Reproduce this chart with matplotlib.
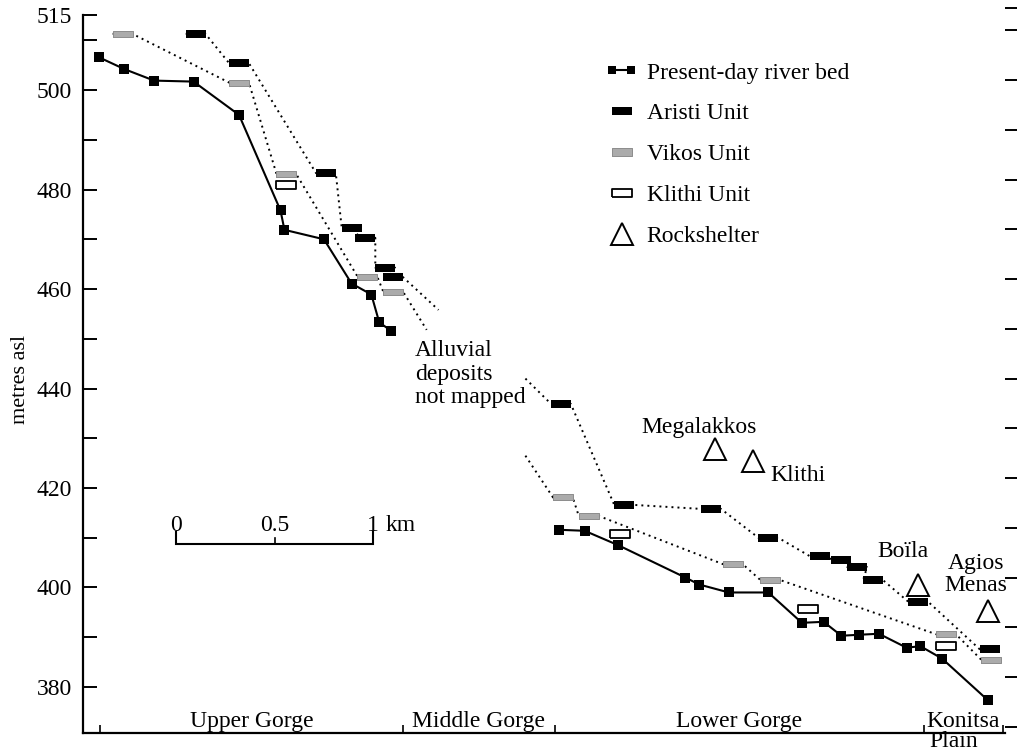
import numpy as np
import matplotlib.pyplot as plt
from matplotlib.lines import Line2D
from matplotlib.legend_handler import HandlerLine2D

plt.rcParams['font.family'] = ['Liberation Serif', 'DejaVu Serif']
plt.rcParams['font.size'] = 17

# distance downstream (km) and elevation (metres asl)
# present-day river bed, split where the middle gorge was not surveyed
bed_upper_km = [0.08, 0.21, 0.36, 0.56, 0.79, 1.00, 1.02, 1.22, 1.36, 1.46, 1.50, 1.56]
bed_upper_m = [506.6, 504.2, 501.9, 501.7, 495.0, 475.8, 471.9, 470.0, 461.1, 458.9, 453.3, 451.6]
bed_lower_km = [2.41, 2.54, 2.71, 3.05, 3.12, 3.27, 3.47, 3.64, 3.75, 3.84, 3.93, 4.03,
                4.17, 4.24, 4.35, 4.58]
bed_lower_m = [411.6, 411.4, 408.5, 402.0, 400.6, 399.0, 399.0, 392.9, 393.1, 390.3, 390.5,
               390.7, 387.9, 388.2, 385.7, 377.4]

# terrace units
aristi_upper_km = [0.57, 0.79, 1.23, 1.36, 1.43, 1.53, 1.57]
aristi_upper_m = [511.3, 505.4, 483.3, 472.3, 470.3, 464.3, 462.4]
aristi_lower_km = [2.42, 2.74, 3.18, 3.47, 3.73, 3.84, 3.92, 4.00, 4.23, 4.59]
aristi_lower_m = [436.9, 416.6, 415.8, 410.0, 406.3, 405.5, 404.1, 401.5, 397.1, 387.6]

vikos_upper_km = [0.20, 0.79, 1.03, 1.44, 1.57]
vikos_upper_m = [511.3, 501.5, 483.1, 462.5, 459.5]
vikos_lower_km = [2.43, 2.56, 3.29, 3.48, 4.37, 4.60]
vikos_lower_m = [418.1, 414.4, 404.7, 401.5, 390.6, 385.4]

klithi_km = [1.03, 2.72, 3.67, 4.37]
klithi_m = [481.0, 410.7, 395.6, 388.2]

# where the terrace trend lines run out into the unmapped reach
aristi_end = (1.80, 455.8)
vikos_end = (1.74, 451.8)
aristi_start = (2.24, 442.0)
vikos_start = (2.24, 426.5)

# rockshelters
rock_names = ['Megalakkos', 'Klithi', 'Boïla', 'Agios Menas']
rock_km = [3.20, 3.39, 4.23, 4.58]
rock_m = [427.8, 425.5, 400.5, 395.3]

# gorge sections along the profile
section_edges_km = [0.086, 1.62, 2.39, 4.258, 4.658]
section_names = ['Upper Gorge', 'Middle Gorge', 'Lower Gorge', 'Konitsa']

left_ticks = [380, 390, 400, 410, 420, 430, 440, 450, 460, 470, 480, 490, 500, 510, 515]
left_labels = [380, 400, 420, 440, 460, 480, 500, 515]
right_ticks = [372, 382, 392, 402, 412, 422, 432, 442, 452, 462, 472, 482, 492, 502, 512, 516.5]

BAR_W = 0.1  # km, length of a terrace bar
ARISTI = [(-10, -3.8), (10, -3.8), (10, 3.8), (-10, 3.8), (-10, -3.8)]
VIKOS = [(-10, -3.4), (10, -3.4), (10, 3.4), (-10, 3.4), (-10, -3.4)]
KLITHI = [(-10, -3.8), (10, -3.8), (10, 3.8), (-10, 3.8), (-10, -3.8)]
DOT = (0, (1, 2.1))


def trend_line(xs, ys, start=None, end=None):
    # dotted line running through both ends of every terrace bar
    lx, ly = [], []
    if start is not None:
        lx.append(start[0]); ly.append(start[1])
    for x, y in zip(xs, ys):
        lx += [x - BAR_W / 2, x + BAR_W / 2]
        ly += [y, y]
    if end is not None:
        lx.append(end[0]); ly.append(end[1])
    return lx, ly


fig = plt.figure(figsize=(10.19, 7.5), dpi=100)
ax = fig.add_axes([83 / 1019, 17 / 750, 922 / 1019, 730 / 750])
ax.set_xlim(0, 922 / 197.5)
ax.set_ylim(370.75, 517.5)

# trend lines
for xs, ys, s, e in [(aristi_upper_km, aristi_upper_m, None, aristi_end),
                     (vikos_upper_km, vikos_upper_m, None, vikos_end),
                     (aristi_lower_km, aristi_lower_m, aristi_start, None),
                     (vikos_lower_km, vikos_lower_m, vikos_start, None)]:
    lx, ly = trend_line(xs, ys, s, e)
    ax.plot(lx, ly, color='k', lw=1.4, ls=DOT, zorder=1)

# river bed
for xs, ys in [(bed_upper_km, bed_upper_m), (bed_lower_km, bed_lower_m)]:
    ax.plot(xs, ys, color='k', lw=1.5, marker='s', ms=7.2, mew=0, zorder=3)

# terrace bars
ax.plot(aristi_upper_km + aristi_lower_km, aristi_upper_m + aristi_lower_m, ls='none',
        marker=ARISTI, ms=14.6, color='k', mew=0, zorder=4)
ax.plot(vikos_upper_km + vikos_lower_km, vikos_upper_m + vikos_lower_m, ls='none',
        marker=VIKOS, ms=14.6, mfc='#ababab', mec='#8c8c8c', mew=0.7, zorder=4)
ax.plot(klithi_km, klithi_m, ls='none', marker=KLITHI, ms=14.0, mfc='white', mec='k',
        mew=1.3, zorder=4)

# rockshelters
ax.plot(rock_km, rock_m, ls='none', marker='^', ms=15.5, mfc='white', mec='k', mew=1.4,
        zorder=4)
ax.text(3.12, 431.1, 'Megalakkos', ha='center', va='baseline')
ax.text(3.48, 421.4, 'Klithi', ha='left', va='baseline')
ax.text(4.15, 406.1, 'Boïla', ha='center', va='baseline')
ax.text(4.52, 403.7, 'Agios', ha='center', va='baseline')
ax.text(4.52, 399.3, 'Menas', ha='center', va='baseline')

for i, line in enumerate(['Alluvial', 'deposits', 'not mapped']):
    ax.text(1.68, 446.5 - i * 4.7, line, ha='left', va='baseline')

# scale bar
sx, sy = 0.47, 408.7
ax.plot([sx, sx, sx + 1, sx + 1], [sy + 2.4, sy, sy, sy + 2.4], color='k', lw=1.5,
        solid_joinstyle='miter')
ax.plot([sx + 0.5, sx + 0.5], [sy, sy + 1.2], color='k', lw=1.2)
ax.text(sx, sy + 2.6, '0', ha='center', va='baseline')
ax.text(sx + 0.5, sy + 2.6, '0.5', ha='center', va='baseline')
ax.text(sx + 1, sy + 2.6, '1', ha='center', va='baseline')
ax.text(sx + 1.06, sy + 2.6, 'km', ha='left', va='baseline')

# gorge sections
mids = [(a + b) / 2 for a, b in zip(section_edges_km[:-1], section_edges_km[1:])]
for m, name in zip(mids, section_names):
    ax.text(m, 372.0, name, ha='center', va='baseline')
ax.text(mids[-1] - 0.05, 368.0, 'Plain', ha='center', va='baseline')

# axes
for side in ['top', 'right']:
    ax.spines[side].set_visible(False)
ax.spines['left'].set_linewidth(1.6)
ax.spines['bottom'].set_linewidth(1.6)
ax.spines['left'].set_bounds(370.75, 515)
ax.set_yticks(left_ticks)
ax.set_yticklabels([str(t) if t in left_labels else '' for t in left_ticks])
ax.tick_params(axis='y', direction='in', length=10, width=1.4, pad=8, labelsize=17)
ax.set_xticks(section_edges_km)
ax.set_xticklabels([])
ax.tick_params(axis='x', direction='in', length=5.5, width=1.2)
ax.set_ylabel('metres asl', fontsize=16)
ax.yaxis.set_label_coords(-0.058, 0.485)

ax2 = ax.twinx()
ax2.set_ylim(ax.get_ylim())
for side in ['top', 'right', 'left', 'bottom']:
    ax2.spines[side].set_visible(False)
ax2.set_yticks(right_ticks)
ax2.tick_params(axis='y', direction='out', length=8.5, width=1.4, labelright=False)

# legend
bed_h = Line2D([], [], color='k', lw=1.5, marker='s', ms=6, mew=0)
aristi_h = Line2D([], [], ls='none', marker=ARISTI, ms=15, color='k', mew=0)
vikos_h = Line2D([], [], ls='none', marker=VIKOS, ms=15, mfc='#ababab', mec='#8c8c8c',
                 mew=0.7)
klithi_h = Line2D([], [], ls='none', marker=KLITHI, ms=14, mfc='white', mec='k', mew=1.3)
rock_h = Line2D([], [], ls='none', marker='^', ms=15.5, mfc='white', mec='k', mew=1.4)
ax.legend([bed_h, aristi_h, vikos_h, klithi_h, rock_h],
          ['Present-day river bed', 'Aristi Unit', 'Vikos Unit', 'Klithi Unit', 'Rockshelter'],
          loc='upper left', bbox_to_anchor=(610 / 1019, 1 - 62 / 750),
          bbox_transform=fig.transFigure, frameon=False, fontsize=17, numpoints=1,
          handlelength=1.0, handletextpad=0.55, labelspacing=0.82, borderpad=0,
          borderaxespad=0,
          handler_map={bed_h: HandlerLine2D(numpoints=2, marker_pad=0.1)})

fig.savefig('out.png', dpi=100)
